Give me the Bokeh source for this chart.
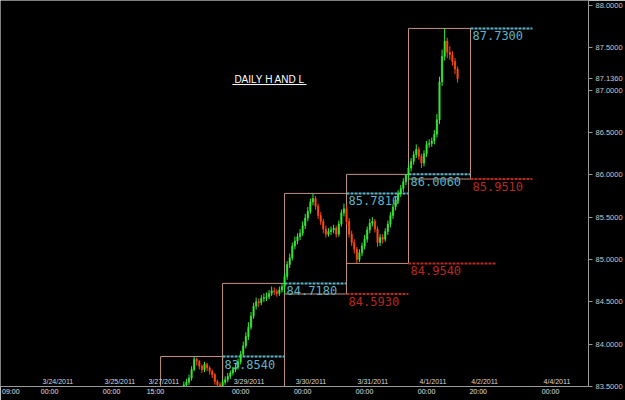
from bokeh.plotting import figure
from bokeh.models import Range1d, FixedTicker, PrintfTickFormatter, ColumnDataSource, Label
from bokeh.embed import file_html
from bokeh.resources import INLINE
from bokeh.core.properties import value

# ---------------- data (x = session hours, weekend compressed; 0 = 3/24/2011 00:00) -------------
hours = list(range(47, 159))
close = [83.35, 83.38, 83.42, 83.40, 83.47, 83.52, 83.55, 83.60, 83.70, 83.82,
         83.80, 83.74, 83.70, 83.76, 83.72, 83.68, 83.64, 83.56, 83.52, 83.49,
         83.55, 83.58, 83.62, 83.66, 83.70, 83.73, 83.79, 83.88, 83.98, 84.09,
         84.20, 84.33, 84.45, 84.50, 84.49, 84.54, 84.55, 84.56, 84.60, 84.63,
         84.62, 84.60, 84.64, 84.68, 84.80, 84.94, 85.02, 85.16, 85.22, 85.27,
         85.31, 85.40, 85.49, 85.57, 85.68, 85.72, 85.63, 85.52, 85.45, 85.36,
         85.30, 85.33, 85.35, 85.37, 85.30, 85.42, 85.55, 85.60, 85.45, 85.30,
         85.20, 85.12, 85.00, 85.08, 85.16, 85.24, 85.35, 85.43, 85.45, 85.36,
         85.20, 85.26, 85.24, 85.33, 85.42, 85.52, 85.62, 85.70, 85.78, 85.84,
         85.92, 86.00, 86.08, 86.16, 86.24, 86.30, 86.22, 86.14, 86.25, 86.36,
         86.37, 86.40, 86.48, 86.65, 87.10, 87.40, 87.58, 87.45, 87.42, 87.34,
         87.25, 87.136]
high = [83.38, 83.42, 83.46, 83.45, 83.50, 83.56, 83.59, 83.64, 83.74, 83.854,
        83.84, 83.81, 83.76, 83.79, 83.78, 83.74, 83.70, 83.66, 83.58, 83.55,
        83.58, 83.62, 83.66, 83.69, 83.73, 83.77, 83.83, 83.92, 84.03, 84.14,
        84.26, 84.38, 84.49, 84.55, 84.54, 84.58, 84.60, 84.61, 84.64, 84.68,
        84.67, 84.65, 84.68, 84.718, 84.84, 84.98, 85.07, 85.20, 85.27, 85.31,
        85.36, 85.45, 85.54, 85.62, 85.72, 85.781, 85.75, 85.66, 85.56, 85.48,
        85.40, 85.37, 85.39, 85.41, 85.40, 85.46, 85.59, 85.66, 85.64, 85.49,
        85.34, 85.24, 85.15, 85.12, 85.20, 85.29, 85.39, 85.48, 85.50, 85.48,
        85.39, 85.30, 85.30, 85.37, 85.46, 85.56, 85.66, 85.75, 85.82, 85.88,
        85.96, 86.006, 86.12, 86.20, 86.28, 86.36, 86.33, 86.25, 86.29, 86.40,
        86.42, 86.44, 86.53, 86.72, 87.16, 87.48, 87.73, 87.62, 87.52, 87.46,
        87.38, 87.28]
low = [83.27, 83.33, 83.35, 83.36, 83.38, 83.44, 83.49, 83.52, 83.57, 83.68,
       83.75, 83.70, 83.66, 83.67, 83.68, 83.64, 83.60, 83.52, 83.47, 83.44,
       83.44, 83.52, 83.55, 83.59, 83.63, 83.67, 83.70, 83.76, 83.85, 83.95,
       84.05, 84.17, 84.30, 84.41, 84.44, 84.46, 84.50, 84.51, 84.53, 84.57,
       84.58, 84.56, 84.57, 84.61, 84.593, 84.76, 84.90, 84.99, 85.12, 85.18,
       85.23, 85.28, 85.36, 85.45, 85.54, 85.64, 85.59, 85.48, 85.41, 85.31,
       85.26, 85.27, 85.29, 85.31, 85.26, 85.27, 85.39, 85.51, 85.41, 85.26,
       85.16, 85.07, 84.954, 84.97, 85.04, 85.12, 85.20, 85.31, 85.39, 85.32,
       85.15, 85.16, 85.19, 85.21, 85.29, 85.38, 85.48, 85.58, 85.66, 85.74,
       85.80, 85.88, 85.951, 86.04, 86.12, 86.20, 86.18, 86.08, 86.10, 86.21,
       86.32, 86.33, 86.36, 86.44, 86.60, 87.05, 87.35, 87.38, 87.36, 87.29,
       87.19, 87.09]
first_open = 83.30

# daily sessions (17:00 to 17:00) and their high / low
day_names = ["3/28/2011", "3/29/2011", "3/30/2011", "3/31/2011", "4/1/2011"]
day_start = [43, 67, 91, 115, 139]
day_end = [67, 91, 115, 139, 163]
day_high = [83.854, 84.718, 85.781, 86.006, 87.730]
day_low = [83.270, 83.440, 84.593, 84.954, 85.951]
next_session = [163, 187]
# how far each previous-day low line runs (hours)
low_line_end = [91, 115, 139, 173, 187]

# axis ticks
time_ticks = [-15, 0, 24, 41, 74, 98, 122, 146, 166, 194]
time_labels = ["09:00", "00:00", "00:00", "15:00", "00:00", "00:00", "00:00", "00:00", "20:00", "00:00"]
date_ticks = [0, 24, 41, 74, 98, 122, 146, 166, 194]
date_labels = ["3/24/2011", "3/25/2011", "3/27/2011", "3/29/2011", "3/30/2011",
               "3/31/2011", "4/1/2011", "4/2/2011", "4/4/2011"]
price_ticks = [83.5, 84.0, 84.5, 85.0, 85.5, 86.0, 86.5, 87.0, 87.5, 88.0]
y_min, y_max = 83.5, 88.06

# ---------------- derived ----------------
opens = [first_open] + close[:-1]
up = [c >= o for o, c in zip(opens, close)]
bar_src = ColumnDataSource(dict(
    x=hours, high=high, low=low,
    top=[max(o, c) for o, c in zip(opens, close)],
    bottom=[min(o, c) for o, c in zip(opens, close)],
    color=["#38e838" if u else "#ff4a12" for u in up],
))

lvl_start = day_start[1:] + [next_session[0]]
lvl_end = day_end[1:] + [next_session[1]]
hi_vis = [(s, e, v) for s, e, v in zip(lvl_start, lvl_end, day_high) if v >= y_min]
lo_vis = [(s, e, v) for s, e, v in zip(lvl_start, low_line_end, day_low) if v >= y_min]

BG = "#000000"
CYAN = "#5cb4c6"
RED = "#b8281e"
BOX = "#c09484"
AXIS = "#9a9a9a"

p = figure(width=625, height=400, output_backend="svg", toolbar_location=None,
           x_range=Range1d(-19, 208.7), y_range=Range1d(y_min, y_max),
           y_axis_location="right", background_fill_color=BG, border_fill_color=BG,
           min_border_left=0, min_border_top=0, min_border_right=37, min_border_bottom=14)
p.outline_line_color = None
p.grid.visible = False

# daily H/L boxes
p.quad(left=day_start, right=day_end, top=day_high, bottom=day_low,
       fill_color=None, line_color=BOX, line_width=1)

# previous-day high / low levels (only those inside the price range)
for items, col in ((hi_vis, CYAN), (lo_vis, RED)):
    s = [i[0] for i in items]
    e = [i[1] for i in items]
    v = [i[2] for i in items]
    p.segment(x0=s, x1=e, y0=v, y1=v, line_color=col, line_width=2, line_dash="3 1")
    p.text(x=s, y=v, text=["%.4f" % t for t in v],
           text_color=col, text_font=value("DejaVu Sans Mono"), text_font_size="12px",
           text_align="left", text_baseline="top", x_offset=2, y_offset=3)

# price bars
p.segment(x0="x", x1="x", y0="low", y1="high", line_color="color", line_width=1, source=bar_src)
p.vbar(x="x", width=0.55, top="top", bottom="bottom", fill_color="color",
       line_color="color", line_width=0.5, source=bar_src)

# date labels above the time axis
p.text(x=date_ticks, y=[y_min] * len(date_ticks), text=date_labels,
       text_color="#d8d8d8", text_font=value("Liberation Sans"), text_font_size="7px",
       text_align="left", text_baseline="bottom", x_offset=-7, y_offset=-2)

# title
p.add_layout(Label(x=85.2, y=87.13, text="DAILY H AND L", text_color="#ffffff",
                   text_font="Liberation Sans", text_font_size="10px",
                   text_align="center", text_baseline="middle"))
p.segment(x0=[70.8], x1=[99.5], y0=[87.067], y1=[87.067], line_color="#ffffff", line_width=1)

# axes (last price is shown on the price axis)
ya = p.yaxis[0]
ya.ticker = FixedTicker(ticks=price_ticks + [close[-1]])
ya.formatter = PrintfTickFormatter(format="%.4f")
ya.axis_line_color = AXIS
ya.major_tick_line_color = AXIS
ya.major_tick_out = 4
ya.major_tick_in = 0
ya.minor_tick_line_color = None
ya.major_label_standoff = 3
ya.major_label_text_color = "#c8c8c8"
ya.major_label_text_font = "Liberation Sans"
ya.major_label_text_font_size = "7.5px"

xa = p.xaxis[0]
xa.ticker = FixedTicker(ticks=time_ticks)
xa.major_label_overrides = {t: l for t, l in zip(time_ticks, time_labels)}
xa.axis_line_color = AXIS
xa.major_tick_line_color = None
xa.major_tick_out = 0
xa.major_tick_in = 0
xa.minor_tick_line_color = None
xa.major_label_standoff = 1
xa.major_label_text_color = "#e0e0e0"
xa.major_label_text_font = "Liberation Sans"
xa.major_label_text_font_size = "7px"

open("out.html", "w").write(file_html(p, INLINE))
